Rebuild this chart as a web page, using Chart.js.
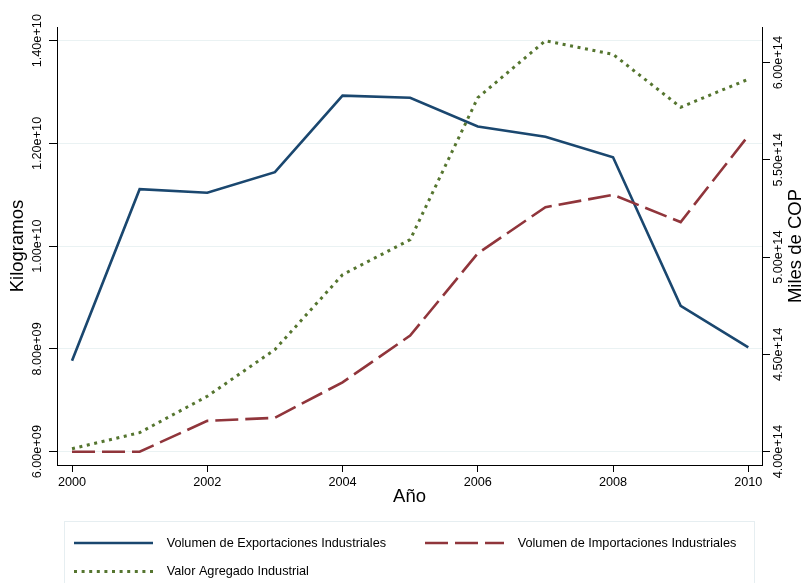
<!DOCTYPE html>
<html>
<head>
<meta charset="utf-8">
<script src="https://cdn.jsdelivr.net/npm/chart.js@4/dist/chart.umd.min.js"></script>
<style>
  html, body { margin: 0; padding: 0; background: #ffffff; }
  #wrap { width: 801px; height: 583px; position: relative; }
</style>
</head>
<body>
<div id="wrap"><canvas id="c" width="801" height="583"></canvas></div>
<script>
// Años de la serie
const years = [2000, 2001, 2002, 2003, 2004, 2005, 2006, 2007, 2008, 2009, 2010];

// Kilogramos (eje izquierdo)
const exportaciones = [7.77e9, 1.111e10, 1.104e10, 1.144e10, 1.293e10, 1.289e10, 1.233e10, 1.213e10, 1.173e10, 8.84e9, 8.03e9];
const importaciones = [6.00e9, 6.00e9, 6.60e9, 6.66e9, 7.35e9, 8.26e9, 9.86e9, 1.076e10, 1.100e10, 1.047e10, 1.215e10];

// Miles de COP (eje derecho)
const valorAgregado = [4.015e14, 4.098e14, 4.285e14, 4.525e14, 4.910e14, 5.090e14, 5.820e14, 6.113e14, 6.043e14, 5.771e14, 5.915e14];

// Marcas de los ejes
const xTicks = [2000, 2002, 2004, 2006, 2008, 2010];
const leftTicks = [6e9, 8e9, 1e10, 1.2e10, 1.4e10];
const leftTickLabels = ['6.00e+09', '8.00e+09', '1.00e+10', '1.20e+10', '1.40e+10'];
const rightTicks = [4e14, 4.5e14, 5e14, 5.5e14, 6e14];
const rightTickLabels = ['4.00e+14', '4.50e+14', '5.00e+14', '5.50e+14', '6.00e+14'];

const seriesNames = [
  'Volumen de Exportaciones Industriales',
  'Volumen de Importaciones Industriales',
  'Valor Agregado Industrial'
];

const FONT = '"Liberation Sans", Arial, Helvetica, sans-serif';
const TICK_SIZE = 12.7;
const TITLE_SIZE = 18.5;
const TICK_LEN = 8;

// width of the rotated y tick labels, used to centre them next to the axis
const mctx = document.createElement('canvas').getContext('2d');
mctx.font = TICK_SIZE + 'px ' + FONT;
const widestLeft = Math.max(...leftTickLabels.map(t => mctx.measureText(t).width));
const widestRight = Math.max(...rightTickLabels.map(t => mctx.measureText(t).width));
const leftPad = 19.5 - TICK_LEN - widestLeft / 2;
const rightPad = 16.3 - TICK_LEN - widestRight / 2;

const toPoints = (vals) => vals.map((v, i) => ({ x: years[i], y: v }));

// right-hand axis title, read bottom to top
const rightTitle = {
  id: 'rightTitle',
  afterDraw(chart) {
    const s = chart.scales.y1;
    const ctx = chart.ctx;
    ctx.save();
    ctx.translate(795.5, (s.top + s.bottom) / 2);
    ctx.rotate(-Math.PI / 2);
    ctx.font = TITLE_SIZE + 'px ' + FONT;
    ctx.fillStyle = '#000';
    ctx.textAlign = 'center';
    ctx.textBaseline = 'middle';
    ctx.fillText('Miles de COP', 0, 0);
    ctx.restore();
  }
};

// boxed legend in two columns below the plot
const boxLegend = {
  id: 'boxLegend',
  afterDraw(chart) {
    const ctx = chart.ctx;
    ctx.save();
    ctx.strokeStyle = '#e6eef1';
    ctx.lineWidth = 1;
    ctx.strokeRect(64.5, 521.5, 690, 90);
    const slots = [
      { i: 0, x: 74, y: 543 },
      { i: 1, x: 425, y: 543 },
      { i: 2, x: 74, y: 571.5 }
    ];
    slots.forEach(sl => {
      const ds = chart.data.datasets[sl.i];
      ctx.strokeStyle = ds.borderColor;
      ctx.lineWidth = ds.borderWidth;
      ctx.lineCap = 'butt';
      ctx.setLineDash(ds.borderDash || []);
      ctx.beginPath();
      ctx.moveTo(sl.x, sl.y);
      ctx.lineTo(sl.x + 79, sl.y);
      ctx.stroke();
      ctx.setLineDash([]);
      ctx.fillStyle = '#000';
      ctx.font = TICK_SIZE + 'px ' + FONT;
      ctx.textAlign = 'left';
      ctx.textBaseline = 'middle';
      ctx.fillText(ds.label, sl.x + 92.7, sl.y);
    });
    ctx.restore();
  }
};

new Chart(document.getElementById('c'), {
  type: 'line',
  data: {
    datasets: [
      {
        label: seriesNames[0],
        data: toPoints(exportaciones),
        yAxisID: 'y',
        borderColor: '#1a476f',
        borderWidth: 2.6,
        order: 3
      },
      {
        label: seriesNames[1],
        data: toPoints(importaciones),
        yAxisID: 'y',
        borderColor: '#90353b',
        borderWidth: 2.6,
        borderDash: [23, 7],
        order: 2
      },
      {
        label: seriesNames[2],
        data: toPoints(valorAgregado),
        yAxisID: 'y1',
        borderColor: '#55752f',
        borderWidth: 3,
        borderDash: [3, 4.6],
        order: 1
      }
    ]
  },
  options: {
    responsive: false,
    animation: false,
    devicePixelRatio: 1,
    layout: { padding: { left: 0, right: 0, top: 27, bottom: 68 } },
    elements: {
      point: { radius: 0, hoverRadius: 0 },
      line: { tension: 0, fill: false, borderCapStyle: 'butt', borderJoinStyle: 'miter' }
    },
    plugins: {
      legend: { display: false },
      tooltip: { enabled: false }
    },
    scales: {
      x: {
        type: 'linear',
        position: 'bottom',
        min: 1999.778,
        max: 2010.2026,
        afterBuildTicks: (s) => { s.ticks = xTicks.map(v => ({ value: v })); },
        afterFit: (s) => { s.height = 50; },
        grid: { drawOnChartArea: false, drawTicks: true, tickLength: 7, tickColor: '#000', tickWidth: 1 },
        border: { display: true, color: '#000', width: 1 },
        ticks: {
          color: '#000',
          font: { family: FONT, size: TICK_SIZE },
          padding: 3,
          minRotation: 0,
          maxRotation: 0,
          autoSkip: false,
          callback: (v) => String(v)
        },
        title: {
          display: true,
          text: 'Año',
          color: '#000',
          font: { family: FONT, size: TITLE_SIZE },
          padding: { top: 0, bottom: 7 }
        }
      },
      y: {
        type: 'linear',
        position: 'left',
        min: 5.7411e9,
        max: 1.42667e10,
        afterBuildTicks: (s) => { s.ticks = leftTicks.map(v => ({ value: v })); },
        afterFit: (s) => { s.width = 57; },
        grid: { color: '#eaf2f3', lineWidth: 1, drawTicks: true, tickLength: TICK_LEN, tickColor: '#000', tickWidth: 1 },
        border: { display: true, color: '#000', width: 1 },
        ticks: {
          color: '#000',
          font: { family: FONT, size: TICK_SIZE },
          minRotation: 90,
          maxRotation: 90,
          crossAlign: 'center',
          padding: leftPad,
          autoSkip: false,
          callback: (v, i) => leftTickLabels[i]
        },
        title: {
          display: true,
          text: 'Kilogramos',
          color: '#000',
          font: { family: FONT, size: TITLE_SIZE },
          padding: { top: 7.2, bottom: 0 }
        }
      },
      y1: {
        type: 'linear',
        position: 'right',
        min: 3.9316e14,
        max: 6.1835e14,
        afterBuildTicks: (s) => { s.ticks = rightTicks.map(v => ({ value: v })); },
        afterFit: (s) => { s.width = 39; },
        grid: { drawOnChartArea: false, drawTicks: true, tickLength: TICK_LEN, tickColor: '#000', tickWidth: 1 },
        border: { display: true, color: '#000', width: 1 },
        ticks: {
          color: '#000',
          font: { family: FONT, size: TICK_SIZE },
          minRotation: 90,
          maxRotation: 90,
          crossAlign: 'center',
          padding: rightPad,
          autoSkip: false,
          callback: (v, i) => rightTickLabels[i]
        },
        title: { display: false }
      }
    }
  },
  plugins: [rightTitle, boxLegend]
});
</script>
</body>
</html>
